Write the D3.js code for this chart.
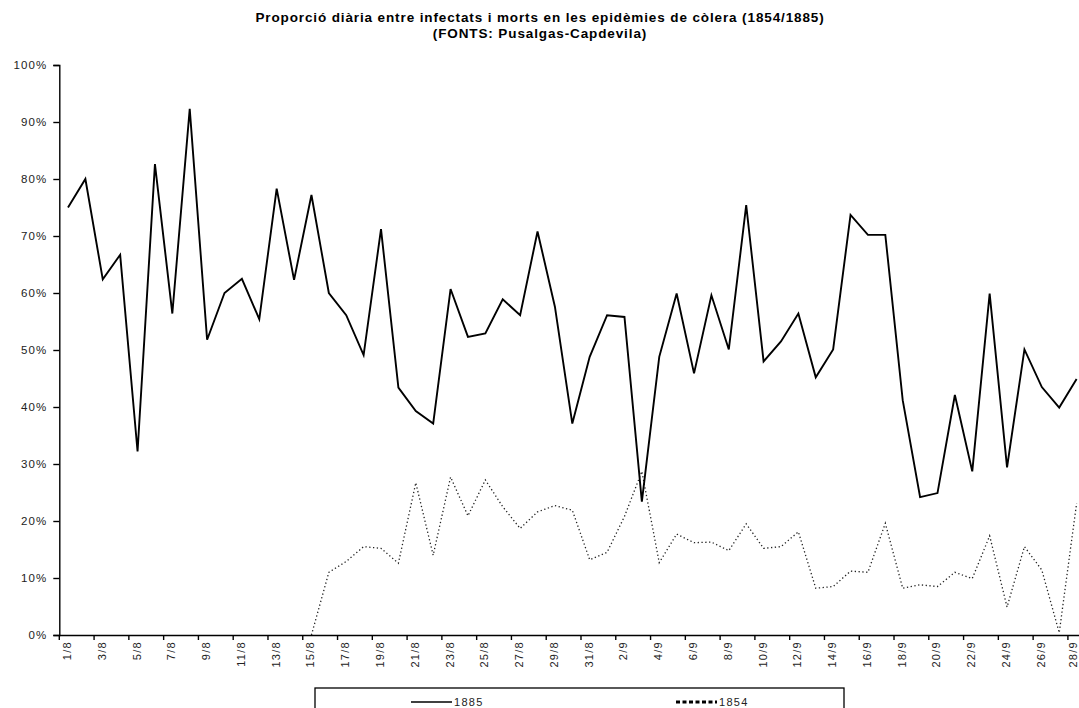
<!DOCTYPE html>
<html>
<head>
<meta charset="utf-8">
<script src="https://cdn.jsdelivr.net/npm/d3@7"></script>
<style>
    body { margin: 0; background: #fff; }
    #chart { width: 1079px; height: 708px; overflow: hidden; }
    text { font-family: "Liberation Sans", Arial, sans-serif; fill: #000; }
</style>
</head>
<body>
<div id="chart"></div>
<script>

// days (1 Aug - 28 Sep)
let days = ["1/8","2/8","3/8","4/8","5/8","6/8","7/8","8/8","9/8","10/8",
    "11/8","12/8","13/8","14/8","15/8","16/8","17/8","18/8","19/8","20/8",
    "21/8","22/8","23/8","24/8","25/8","26/8","27/8","28/8","29/8","30/8","31/8",
    "1/9","2/9","3/9","4/9","5/9","6/9","7/9","8/9","9/9","10/9",
    "11/9","12/9","13/9","14/9","15/9","16/9","17/9","18/9","19/9","20/9",
    "21/9","22/9","23/9","24/9","25/9","26/9","27/9","28/9"];

// % deaths / infected, 1885
let values1885 = [75.0, 80.0, 62.4, 66.7, 32.2, 82.6, 56.4, 92.3, 51.8, 60.0,
    62.5, 55.4, 78.3, 62.3, 77.2, 60.0, 56.1, 49.1, 71.2, 43.4,
    39.3, 37.1, 60.7, 52.3, 52.9, 58.9, 56.1, 70.8, 57.6, 37.1, 48.8,
    56.1, 55.8, 23.4, 48.8, 59.9, 45.9, 59.6, 50.1, 75.4, 48.0,
    51.5, 56.4, 45.2, 50.1, 73.7, 70.2, 70.2, 41.2, 24.2, 24.9,
    42.1, 28.7, 59.9, 29.4, 50.1, 43.5, 39.9, 44.9];

// % deaths / infected, 1854 (no data before 15/8)
let values1854 = [null, null, null, null, null, null, null, null, null, null,
    null, null, null, null, 0.0, 11.0, 12.9, 15.5, 15.2, 12.6,
    26.7, 14.0, 27.7, 20.9, 27.2, 22.5, 18.7, 21.6, 22.7, 21.9, 13.2,
    14.5, 20.8, 28.7, 12.7, 17.7, 16.2, 16.3, 14.8, 19.5, 15.2,
    15.5, 18.1, 8.2, 8.5, 11.2, 11.0, 19.6, 8.2, 8.8, 8.5,
    11.0, 9.9, 17.4, 4.9, 15.5, 11.4, 0.4, 23.1];

let yTicks = [0, 10, 20, 30, 40, 50, 60, 70, 80, 90, 100];

let titleLines = ["Proporció diària entre infectats i morts en les epidèmies de còlera (1854/1885)",
    "(FONTS: Pusalgas-Capdevila)"];


class LineVis {

    constructor(parentElement) {
        this.parentElement = parentElement;
        this.initVis();
    }

    initVis() {
        let vis = this;

        vis.width = 1079;
        vis.height = 708;
        vis.plot = {left: 59.3, right: 1085.3, top: 65, bottom: 635};

        vis.svg = d3.select("#" + vis.parentElement).append("svg")
            .attr("width", vis.width)
            .attr("height", vis.height);

        // title
        vis.svg.append("g").selectAll("text")
            .data(titleLines)
            .enter().append("text")
            .attr("x", 540)
            .attr("y", (d, i) => 21.5 + i * 16)
            .attr("text-anchor", "middle")
            .style("font-size", "13.5px")
            .style("letter-spacing", "0.88px")
            .style("font-weight", "bold")
            .text(d => d);

        vis.x = d3.scaleBand()
            .domain(days)
            .range([vis.plot.left, vis.plot.right]);

        vis.y = d3.scaleLinear()
            .domain([0, 100])
            .range([vis.plot.bottom, vis.plot.top]);

        // y axis
        let yAxis = d3.axisLeft(vis.y)
            .tickValues(yTicks)
            .tickSize(6)
            .tickPadding(6)
            .tickFormat(d => d + "%");

        vis.svg.append("g")
            .attr("class", "y-axis")
            .attr("transform", `translate(${vis.plot.left}, 0)`)
            .call(yAxis)
            .call(g => g.selectAll("text").style("font-size", "11.5px").style("letter-spacing", "1.1px").style("fill", "#222"))
            .call(g => g.selectAll("line, path").attr("stroke", "#000").attr("stroke-width", 1.4));

        // x axis: ticks every 2 days on band edges, labels every 2 days
        let xAxis = d3.axisBottom(vis.x)
            .tickValues([])
            .tickSizeOuter(0);

        let xg = vis.svg.append("g")
            .attr("class", "x-axis")
            .attr("transform", `translate(0, ${vis.plot.bottom})`)
            .call(xAxis);
        xg.select("path").attr("stroke", "#000").attr("stroke-width", 1.4);

        let labelDays = days.filter((d, i) => i % 2 === 0);

        xg.selectAll(".edge-tick")
            .data(labelDays)
            .enter().append("line")
            .attr("class", "edge-tick")
            .attr("x1", d => vis.x(d))
            .attr("x2", d => vis.x(d))
            .attr("y1", 0)
            .attr("y2", 5)
            .attr("stroke", "#000")
            .attr("stroke-width", 1.4);

        xg.selectAll(".day-label")
            .data(labelDays)
            .enter().append("text")
            .attr("class", "day-label")
            .attr("transform", d => `translate(${Math.min(vis.x(d) + vis.x.bandwidth() / 2 + 3, 1077)}, 6) rotate(-90)`)
            .attr("text-anchor", "end")
            .style("font-size", "11px")
            .style("letter-spacing", "1.3px")
            .style("fill", "#222")
            .text(d => d);

        vis.line = d3.line()
            .defined(d => d.value !== null)
            .x(d => vis.x(d.day) + vis.x.bandwidth() / 2)
            .y(d => vis.y(d.value));

        // legend
        let legend = vis.svg.append("g").attr("class", "legend");

        legend.append("rect")
            .attr("x", 315)
            .attr("y", 688)
            .attr("width", 529)
            .attr("height", 40)
            .attr("fill", "none")
            .attr("stroke", "#000")
            .attr("stroke-width", 1.3);

        vis.legendItems = [
            {label: "1885", x: 411, dash: null, width: 1.6},
            {label: "1854", x: 676, dash: "4,2.5", width: 2.8}
        ];

        vis.legendItems.forEach(item => {
            legend.append("line")
                .attr("x1", item.x).attr("x2", item.x + 41)
                .attr("y1", 702).attr("y2", 702)
                .attr("stroke", "#000")
                .attr("stroke-width", item.width)
                .attr("stroke-dasharray", item.dash);
            legend.append("text")
                .attr("x", item.x + 43)
                .attr("y", 706)
                .style("font-size", "11px")
                .style("letter-spacing", "1.3px")
                .style("fill", "#222")
                .text(item.label);
        });

        this.wrangleData();
    }

    wrangleData() {
        let vis = this;

        vis.series1885 = days.map((d, i) => ({day: d, value: values1885[i]}));
        vis.series1854 = days.map((d, i) => ({day: d, value: values1854[i]}));

        vis.updateVis();
    }

    updateVis() {
        let vis = this;

        vis.svg.append("path")
            .datum(vis.series1854)
            .attr("class", "line-1854")
            .attr("fill", "none")
            .attr("stroke", "#222")
            .attr("stroke-width", 1.3)
            .attr("stroke-dasharray", "1.3,2.5")
            .attr("d", vis.line);

        vis.svg.append("path")
            .datum(vis.series1885)
            .attr("class", "line-1885")
            .attr("fill", "none")
            .attr("stroke", "#000")
            .attr("stroke-width", 1.9)
            .attr("stroke-linejoin", "miter")
            .attr("d", vis.line);
    }
}

new LineVis("chart");

</script>
</body>
</html>
